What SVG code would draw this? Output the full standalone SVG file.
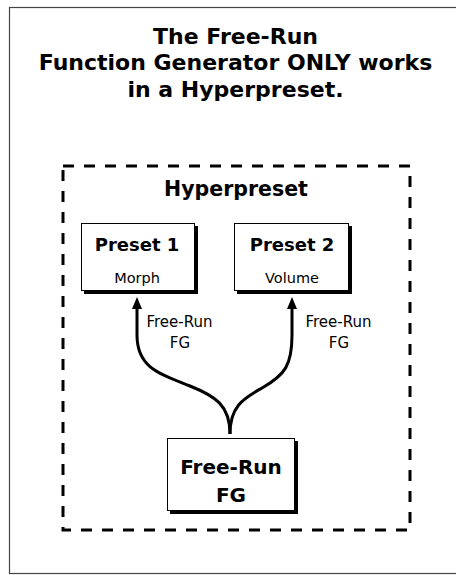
<svg xmlns="http://www.w3.org/2000/svg" width="456" height="575" viewBox="0 0 456 575">
<defs>
<style>
.b{font-family:"DejaVu Sans","Open Sans",sans-serif;font-weight:bold;fill:#000;text-anchor:middle}
.r{font-family:"DejaVu Sans","Open Sans",sans-serif;font-weight:normal;fill:#000;text-anchor:middle}
.box{fill:#fff;stroke:#000;stroke-width:1}
.sh{fill:#000}
.conn{fill:none;stroke:#000;stroke-width:3}
.head{fill:#000}
</style>
</defs>
<rect width="456" height="575" fill="#fff"/>
<rect x="9.5" y="7.5" width="460" height="566" fill="none" stroke="#444" stroke-width="1.2"/>
<g id="title">
<text class="b" font-size="22" x="235.5" y="44">The Free-Run</text>
<text class="b" font-size="22" x="235.5" y="70">Function Generator ONLY works</text>
<text class="b" font-size="22" x="235.5" y="97">in a Hyperpreset.</text>
</g>
<g id="hyperpreset">
<rect x="63" y="166" width="347" height="364" fill="none" stroke="#000" stroke-width="3" stroke-dasharray="11 10"/>
<text class="b" font-size="20.5" x="236" y="196">Hyperpreset</text>
</g>
<g id="preset1">
<rect class="sh" x="84" y="226" width="114" height="68"/>
<rect class="box" x="81.5" y="223.5" width="113" height="67"/>
<text class="b" font-size="18" x="137" y="251">Preset 1</text>
<text class="r" font-size="14.5" x="137" y="283">Morph</text>
</g>
<g id="preset2">
<rect class="sh" x="237" y="226" width="115" height="68"/>
<rect class="box" x="234.5" y="223.5" width="114" height="67"/>
<text class="b" font-size="18" x="292" y="251">Preset 2</text>
<text class="r" font-size="14.5" x="292" y="283">Volume</text>
</g>
<g id="freerun">
<rect class="sh" x="170" y="441" width="128" height="73"/>
<rect class="box" x="167.5" y="438.5" width="127" height="72"/>
<text class="b" font-size="20" x="231" y="474">Free-Run</text>
<text class="b" font-size="20" x="231" y="502">FG</text>
</g>
<g id="connectors">
<path class="conn" d="M230,434 C230,405 215,396 190,386 C160,374 137,368 137,335 L137,307"/>
<path class="conn" d="M230,434 C230,405 245,398 262,388 C285,375 292,365 292,335 L292,307"/>
<path class="head" d="M137,297 L142,309 L132,309 Z"/>
<path class="head" d="M292,297 L297,309 L287,309 Z"/>
<text class="r" font-size="15" x="179.5" y="327">Free-Run</text>
<text class="r" font-size="15" x="180" y="348">FG</text>
<text class="r" font-size="15" x="338.5" y="327">Free-Run</text>
<text class="r" font-size="15" x="339" y="348">FG</text>
</g>
</svg>
